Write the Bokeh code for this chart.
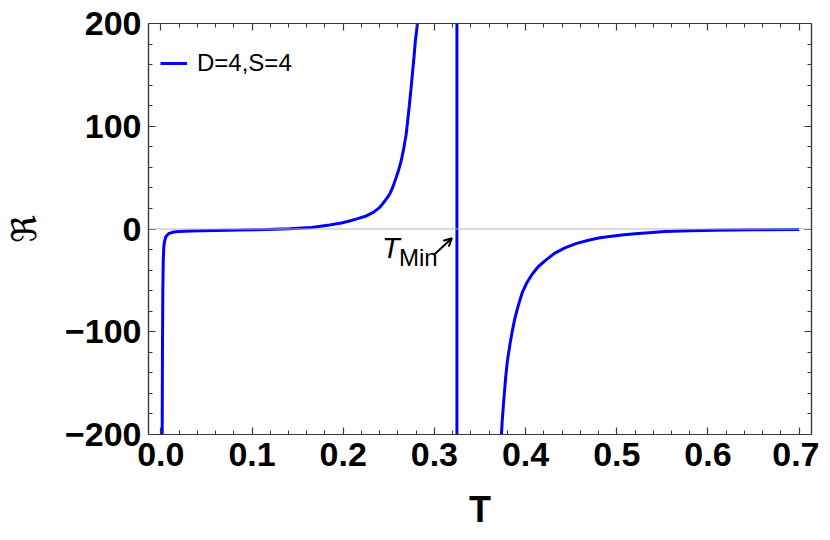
from bokeh.plotting import figure
from bokeh.models import (Span, Label, Arrow, OpenHead, LinearAxis, FixedTicker,
                          PrintfTickFormatter, CustomJSTickFormatter, Legend, LegendItem, Range1d)
from bokeh.embed import file_html
from bokeh.resources import INLINE

# ---- data ----
T_LEFT = [0.0013, 0.0015, 0.0018, 0.0022, 0.0027, 0.0033, 0.0040, 0.0055, 0.0085, 0.0142,
          0.020, 0.0324, 0.045, 0.06, 0.087, 0.115, 0.1416, 0.165, 0.185, 0.198,
          0.207, 0.215, 0.2253, 0.233, 0.2398, 0.245, 0.2508, 0.2545, 0.258, 0.2608,
          0.2635, 0.2663, 0.269, 0.2708, 0.2726, 0.2744, 0.2762, 0.2777, 0.2791, 0.2805,
          0.2817, 0.2830]
R_LEFT = [-260, -200, -120, -60, -30, -17, -12.5, -7.5, -4.5, -2.9,
          -2.4, -1.9, -1.6, -1.4, -1.0, -0.4, 0.3, 1.5, 3.9, 5.9,
          7.8, 9.8, 12.7, 16.2, 20.8, 26.5, 33.8, 41, 50, 57.5,
          66, 78, 92, 106, 121, 137, 154, 168, 183, 193,
          203, 215]

T_RIGHT = [0.3728, 0.3734, 0.3745, 0.3763, 0.3781, 0.38, 0.3827, 0.3854, 0.388, 0.3908,
           0.3935, 0.3963, 0.4015, 0.4072, 0.414, 0.4218, 0.432, 0.4437, 0.456, 0.469,
           0.48, 0.492, 0.5055, 0.52, 0.535, 0.553, 0.58, 0.607, 0.65, 0.7]
R_RIGHT = [-215, -201, -185, -164, -145, -128.6, -113, -99.4, -88, -78.3,
           -70, -62, -52, -44, -36.5, -30.5, -23.5, -18.2, -14, -11,
           -8.8, -7.2, -5.8, -4.7, -3.6, -2.4, -1.6, -1.1, -0.7, -0.5]

T_MIN = 0.3247
T_POLE = [T_MIN, T_MIN]
R_POLE = [-215, 215]

X_TICKS = [0.0, 0.1, 0.2, 0.3, 0.4, 0.5, 0.6, 0.7]
Y_TICKS = [-200, -100, 0, 100, 200]
SERIES_NAME = "D=4,S=4"

BLUE = "#0000ff"
FRAME = "#3a3a3a"
FONT = "Liberation Sans"

x_minor = [round(0.02 * i, 2) for i in range(0, 36)]
y_minor = [-200 + 20 * i for i in range(0, 21)]

p = figure(width=819, height=532,
           x_range=Range1d(-0.0135, 0.7135), y_range=Range1d(-200, 200),
           output_backend="svg", toolbar_location=None,
           min_border_left=140, min_border_right=8, min_border_top=23, min_border_bottom=98)
p.xgrid.visible = False
p.ygrid.visible = False
p.outline_line_color = FRAME
p.outline_line_width = 1.2
p.background_fill_color = "white"

xt = FixedTicker(ticks=X_TICKS, minor_ticks=x_minor)
yt = FixedTicker(ticks=Y_TICKS, minor_ticks=y_minor)
yfmt = CustomJSTickFormatter(code="return tick < 0 ? '\u2212' + Math.abs(tick) : String(tick);")
blank = CustomJSTickFormatter(code="return '';")


def style_axis(ax, show_labels):
    ax.axis_line_color = FRAME
    ax.axis_line_width = 1.2
    ax.major_tick_line_color = FRAME
    ax.minor_tick_line_color = FRAME
    ax.major_tick_line_width = 1.2
    ax.minor_tick_line_width = 1.0
    ax.major_tick_in = 7
    ax.major_tick_out = 0
    ax.minor_tick_in = 4
    ax.minor_tick_out = 0
    if show_labels:
        ax.major_label_text_font = FONT
        ax.major_label_text_font_style = "bold"
        ax.major_label_text_font_size = "34px"
        ax.major_label_text_color = "black"
    else:
        ax.formatter = blank
        ax.major_label_standoff = 0


xa = p.xaxis[0]
xa.ticker = xt
xa.formatter = PrintfTickFormatter(format="%.1f")
style_axis(xa, True)
xa.major_label_standoff = 8
xa.axis_label = "T"
xa.axis_label_text_font = FONT
xa.axis_label_text_font_style = "bold"
xa.axis_label_text_font_size = "36px"
xa.axis_label_text_color = "black"
xa.axis_label_standoff = 20

ya = p.yaxis[0]
ya.ticker = yt
ya.formatter = yfmt
style_axis(ya, True)
ya.major_label_standoff = 7
ya.axis_label = "\u211c"
ya.axis_label_text_font = "DejaVu Sans"
ya.axis_label_text_font_style = "normal"
ya.axis_label_text_font_size = "34px"
ya.axis_label_text_color = "black"
ya.axis_label_standoff = 18

top = LinearAxis(ticker=xt)
style_axis(top, False)
p.add_layout(top, "above")
right = LinearAxis(ticker=yt)
style_axis(right, False)
p.add_layout(right, "right")

p.add_layout(Span(location=0, dimension="width", line_color="#b8b8b8", line_width=1))

r1 = p.line(T_LEFT, R_LEFT, line_color=BLUE, line_width=3)
p.line(T_POLE, R_POLE, line_color=BLUE, line_width=3)
p.line(T_RIGHT, R_RIGHT, line_color=BLUE, line_width=3)

legend = Legend(items=[LegendItem(label=SERIES_NAME, renderers=[r1])],
                location=(12, 357), orientation="vertical",
                border_line_alpha=0, background_fill_alpha=0,
                padding=0, margin=0, spacing=0,
                glyph_width=27, glyph_height=24, label_height=24,
                label_standoff=10,
                label_text_font=FONT, label_text_font_size="24px", label_text_color="black")
p.add_layout(legend, "center")

# T_Min annotation
p.add_layout(Label(x=T_MIN, y=0, x_offset=-75, y_offset=-19, text="T",
                   text_font=FONT, text_font_style="italic", text_font_size="29px",
                   text_align="left", text_baseline="alphabetic", text_color="black"))
p.add_layout(Label(x=T_MIN, y=0, x_offset=-58, y_offset=-28, text="Min",
                   text_font=FONT, text_font_size="24px",
                   text_align="left", text_baseline="alphabetic", text_color="black"))
p.add_layout(Arrow(end=OpenHead(size=8, line_width=2, line_color="black"),
                   x_start=T_MIN - 0.0245, y_start=-24.5,
                   x_end=T_MIN - 0.0055, y_end=-9.0,
                   line_width=2, line_color="black"))

open("out.html", "w").write(file_html(p, INLINE))
